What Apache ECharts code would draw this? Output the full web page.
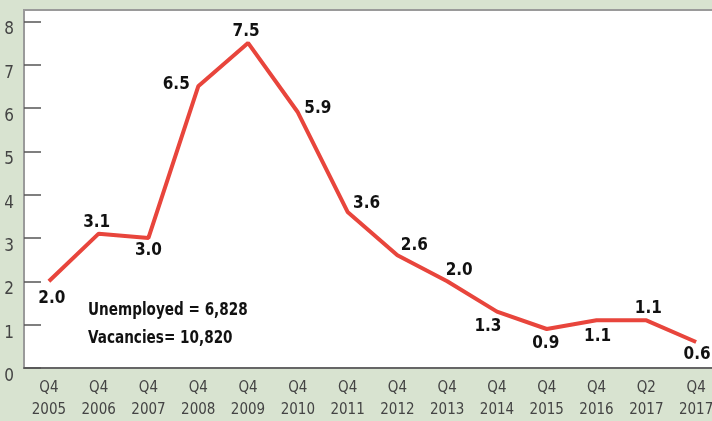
<!DOCTYPE html>
<html><head><meta charset="utf-8">
<script src="https://cdn.jsdelivr.net/npm/echarts@6/dist/echarts.min.js"></script>
<style>html,body{margin:0;padding:0;background:#d8e3d0;overflow:hidden;width:712px;height:421px;}#c{width:721px;height:421px;}</style>
</head><body><div id="c"></div>
<script>
var categories = ['Q4\n2005','Q4\n2006','Q4\n2007','Q4\n2008','Q4\n2009','Q4\n2010','Q4\n2011','Q4\n2012','Q4\n2013','Q4\n2014','Q4\n2015','Q4\n2016','Q2\n2017','Q4\n2017'];
var ratio = [2.0, 3.1, 3.0, 6.5, 7.5, 5.9, 3.6, 2.6, 2.0, 1.3, 0.9, 1.1, 1.1, 0.6];
var yTicks = [0,1,2,3,4,5,6,7,8];
var labelOffsets = [[3,17],[-2,-11],[0,13],[-22,-2],[-2,-11],[20,-4],[19,-8],[17,-10],[12,-11],[-9,15],[-1,15],[1,16],[2,-12],[1,13]];
var noteLines = ['Unemployed = 6,828', 'Vacancies= 10,820'];

var cond = '"Liberation Sans Narrow","DejaVu Sans Condensed","Roboto Condensed",sans-serif';
var chart = echarts.init(document.getElementById('c'));
chart.setOption({
  backgroundColor: '#d8e3d0',
  animation: false,
  grid: {left: 24, right: 0, top: 10, bottom: 51, show: true, backgroundColor: '#ffffff', borderColor: '#9a9a9a', borderWidth: 2},
  xAxis: {
    type: 'category', data: categories, boundaryGap: true,
    axisLine: {lineStyle: {color: '#666', width: 2}},
    axisTick: {inside: true, length: 9, lineStyle: {color: '#555', width: 1.5}},
    axisLabel: {color: '#444', fontFamily: cond, fontSize: 15, lineHeight: 22, margin: 9, interval: 0}
  },
  yAxis: {
    type: 'value', min: 0, max: 8.26, interval: 1,
    axisLine: {show: true, lineStyle: {color: '#9a9a9a', width: 2}},
    axisTick: {show: true, inside: true, length: 17, lineStyle: {color: '#555', width: 1.5}},
    splitLine: {show: false},
    axisLabel: {showMaxLabel: false, color: '#444', fontFamily: cond, fontSize: 17, margin: 10, verticalAlign: 'top', lineHeight: 17,
      formatter: function(v){ return yTicks.indexOf(v) >= 0 ? String(v) : ''; }}
  },
  series: [{
    type: 'line', data: ratio.map(function(v, i){
      return {value: v, label: {offset: labelOffsets[i]}};
    }),
    symbol: 'circle', symbolSize: 1, showSymbol: true, itemStyle: {color: 'rgba(0,0,0,0)'},
    lineStyle: {color: '#e8453c', width: 4},
    label: {show: true, position: 'inside', fontFamily: cond, fontWeight: 'bold', fontSize: 17, color: '#111',
      formatter: function(p){ return p.value.toFixed(1); }}
  }],
  graphic: noteLines.map(function(t, i){
    return {type: 'text', left: 88, top: 302 + i * 28, scaleX: 0.89, style: {text: t, fontFamily: cond, fontWeight: 'bold', fontSize: 17, fill: '#111'}};
  })
});
</script></body></html>
